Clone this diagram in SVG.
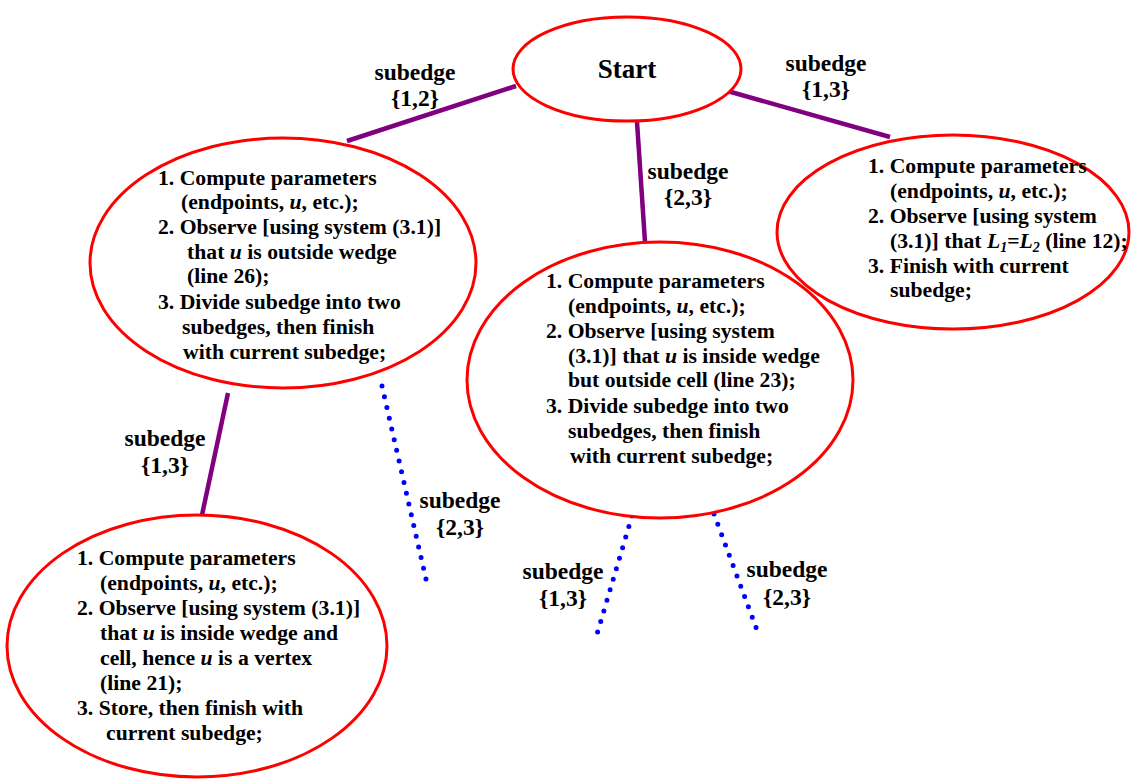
<svg xmlns="http://www.w3.org/2000/svg" width="1136" height="782" viewBox="0 0 1136 782">
<style>
text{font-family:"Liberation Serif","Times New Roman",serif;font-weight:bold;fill:#000}
.t{font-size:21.7px}
.lb{font-size:23.5px;text-anchor:middle}
.st{font-size:27px;text-anchor:middle}
.i{font-style:italic}
.node ellipse{fill:#fff;stroke:#ff0000;stroke-width:3}
.solid{stroke:#800080;stroke-width:4.5;fill:none}
.dot{stroke:#0000ff;stroke-width:5;stroke-linecap:round;stroke-dasharray:0 11;fill:none}
</style>
<rect width="1136" height="782" fill="#fff"/>
<g id="connectors">
<line class="solid" x1="516" y1="86" x2="347" y2="141"/>
<line class="solid" x1="724" y1="90" x2="890" y2="137"/>
<line class="solid" x1="637" y1="122" x2="645" y2="242"/>
<line class="solid" x1="228" y1="393" x2="202" y2="515"/>
<line class="dot" x1="382" y1="386" x2="428" y2="588"/>
<line class="dot" x1="632" y1="516" x2="597" y2="634"/>
<line class="dot" x1="714" y1="514" x2="757" y2="630"/>
</g>
<g id="labels">
<text class="lb" x="415" y="80">subedge</text><text class="lb" x="415" y="106">{1,2}</text>
<text class="lb" x="826" y="71">subedge</text><text class="lb" x="826" y="97">{1,3}</text>
<text class="lb" x="688" y="179">subedge</text><text class="lb" x="688" y="205">{2,3}</text>
<text class="lb" x="165" y="446">subedge</text><text class="lb" x="165" y="473">{1,3}</text>
<text class="lb" x="460" y="508">subedge</text><text class="lb" x="460" y="535">{2,3}</text>
<text class="lb" x="563" y="579">subedge</text><text class="lb" x="563" y="606">{1,3}</text>
<text class="lb" x="787" y="577">subedge</text><text class="lb" x="787" y="605">{2,3}</text>
</g>
<g id="start" class="node">
<ellipse cx="627" cy="69" rx="114" ry="52"/>
<text class="st" x="627" y="78">Start</text>
</g>
<g id="n12" class="node">
<ellipse cx="283" cy="263" rx="193" ry="125"/>
<text class="t" x="158" y="185">1. Compute parameters</text>
<text class="t" x="181" y="209">(endpoints, <tspan class="i">u</tspan>, etc.);</text>
<text class="t" x="158" y="234">2. Observe [using system (3.1)]</text>
<text class="t" x="187" y="259">that <tspan class="i">u</tspan> is outside wedge</text>
<text class="t" x="187" y="283">(line 26);</text>
<text class="t" x="158" y="309">3. Divide subedge into two</text>
<text class="t" x="182" y="334">subedges, then finish</text>
<text class="t" x="183" y="359">with current subedge;</text>
</g>
<g id="n13" class="node">
<ellipse cx="953" cy="232" rx="176" ry="97"/>
<text class="t" x="868" y="173">1. Compute parameters</text>
<text class="t" x="890" y="198">(endpoints, <tspan class="i">u</tspan>, etc.);</text>
<text class="t" x="868" y="223">2. Observe [using system</text>
<text class="t" x="890" y="248">(3.1)] that <tspan class="i">L</tspan><tspan class="i" font-size="14" dy="4">1</tspan><tspan dy="-4">=</tspan><tspan class="i">L</tspan><tspan class="i" font-size="14" dy="4">2</tspan><tspan dy="-4"> (line 12);</tspan></text>
<text class="t" x="868" y="273">3. Finish with current</text>
<text class="t" x="890" y="297">subedge;</text>
</g>
<g id="n23" class="node">
<ellipse cx="660" cy="380" rx="193" ry="138"/>
<text class="t" x="546" y="288">1. Compute parameters</text>
<text class="t" x="568" y="313">(endpoints, <tspan class="i">u</tspan>, etc.);</text>
<text class="t" x="546" y="338">2. Observe [using system</text>
<text class="t" x="568" y="363">(3.1)] that <tspan class="i">u</tspan> is inside wedge</text>
<text class="t" x="568" y="387">but outside cell (line 23);</text>
<text class="t" x="546" y="413">3. Divide subedge into two</text>
<text class="t" x="568" y="438">subedges, then finish</text>
<text class="t" x="570" y="463">with current subedge;</text>
</g>
<g id="nleaf" class="node">
<ellipse cx="197" cy="646" rx="190" ry="131"/>
<text class="t" x="77" y="565">1. Compute parameters</text>
<text class="t" x="100" y="590">(endpoints, <tspan class="i">u</tspan>, etc.);</text>
<text class="t" x="77" y="615">2. Observe [using system (3.1)]</text>
<text class="t" x="100" y="640">that <tspan class="i">u</tspan> is inside wedge and</text>
<text class="t" x="100" y="665">cell, hence <tspan class="i">u</tspan> is a vertex</text>
<text class="t" x="100" y="690">(line 21);</text>
<text class="t" x="77" y="715">3. Store, then finish with</text>
<text class="t" x="106" y="740">current subedge;</text>
</g>
</svg>
